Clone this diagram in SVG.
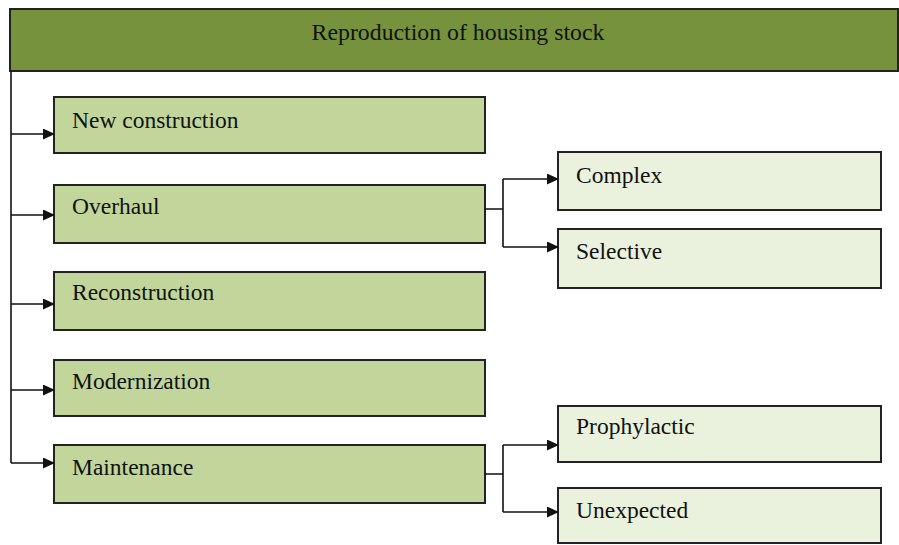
<svg xmlns="http://www.w3.org/2000/svg" width="899" height="545" viewBox="0 0 899 545">
<defs>
<marker id="ah" markerWidth="12" markerHeight="11" refX="11" refY="5.5" orient="auto" markerUnits="userSpaceOnUse">
<path d="M0,0 L12,5.5 L0,11 z" fill="#111"/>
</marker>
<style>
.hdr{fill:#76923C;stroke:#222;stroke-width:2}
.l1{fill:#C2D69B;stroke:#222;stroke-width:2}
.l2{fill:#EAF1DD;stroke:#222;stroke-width:2}
text{font-size:23.5px;fill:#111}
.h{font-size:23.8px}
.c{fill:none;stroke:#111;stroke-width:1.6}
</style>
</defs>
<rect width="899" height="545" fill="#fff"/>
<g font-family="Liberation Serif, DejaVu Serif, serif">
<g id="header"><rect class="hdr" x="10" y="9" width="888" height="62"/><text class="h" x="458" y="40" text-anchor="middle">Reproduction of housing stock</text></g>
<g id="new-construction"><rect class="l1" x="54" y="97" width="431" height="56"/><text x="72" y="128">New construction</text></g>
<g id="overhaul"><rect class="l1" x="54" y="185" width="431" height="58"/><text x="72" y="214">Overhaul</text></g>
<g id="reconstruction"><rect class="l1" x="54" y="272" width="431" height="58"/><text x="72" y="300">Reconstruction</text></g>
<g id="modernization"><rect class="l1" x="54" y="360" width="431" height="56"/><text x="72" y="389">Modernization</text></g>
<g id="maintenance"><rect class="l1" x="54" y="445" width="431" height="58"/><text x="72" y="475">Maintenance</text></g>
<g id="complex"><rect class="l2" x="558" y="152" width="323" height="58"/><text x="576" y="183">Complex</text></g>
<g id="selective"><rect class="l2" x="558" y="229" width="323" height="59"/><text x="576" y="259">Selective</text></g>
<g id="prophylactic"><rect class="l2" x="558" y="406" width="323" height="56"/><text x="576" y="434">Prophylactic</text></g>
<g id="unexpected"><rect class="l2" x="558" y="488" width="323" height="55"/><text x="576" y="518">Unexpected</text></g>
</g>
<g id="connectors">
<path class="c" d="M11,71 V463"/>
<path class="c" d="M11,134 H54" marker-end="url(#ah)"/>
<path class="c" d="M11,215 H54" marker-end="url(#ah)"/>
<path class="c" d="M11,304 H54" marker-end="url(#ah)"/>
<path class="c" d="M11,390 H54" marker-end="url(#ah)"/>
<path class="c" d="M11,463 H54" marker-end="url(#ah)"/>
<path class="c" d="M485,209 H503 M503,179 V247"/>
<path class="c" d="M503,179 H558" marker-end="url(#ah)"/>
<path class="c" d="M503,247 H558" marker-end="url(#ah)"/>
<path class="c" d="M485,474 H503 M503,445 V512"/>
<path class="c" d="M503,445 H558" marker-end="url(#ah)"/>
<path class="c" d="M503,512 H558" marker-end="url(#ah)"/>
</g>
</svg>
